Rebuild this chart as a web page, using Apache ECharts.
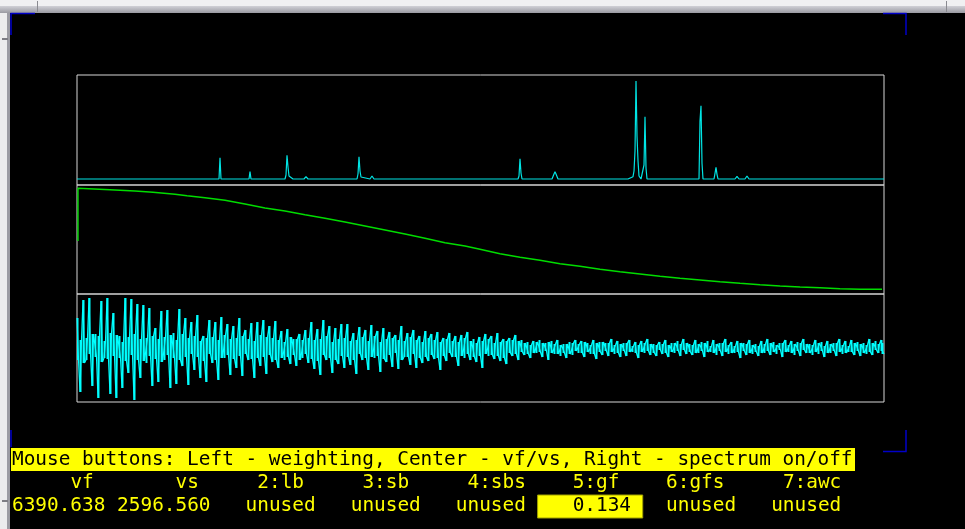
<!DOCTYPE html>
<html>
<head>
<meta charset="utf-8">
<script src="https://cdn.jsdelivr.net/npm/echarts@6/dist/echarts.min.js"></script>
<style>
  html, body { margin: 0; padding: 0; background: #000; }
  #chart { width: 965px; height: 529px; }
</style>
</head>
<body>
<div id="chart"></div>
<script>
// ---------------------------------------------------------------------------
// Spectrum / weighting / waveform panels (X11 style readout)
// ---------------------------------------------------------------------------

// spectrum: bin index -> magnitude above baseline
const specX = [0, 142, 143, 144, 172, 173, 174, 208, 209, 210, 211, 212, 214, 216, 227, 229, 231,
  280, 281, 282, 283, 284, 286, 293, 295, 297, 441, 442, 443, 444, 445, 475, 477, 478, 479, 481,
  551, 556, 557, 558, 559, 560, 561, 562, 564, 566, 567, 568, 569, 570, 614, 615, 616,
  622, 623, 624, 625, 626, 637, 638, 639, 640, 641, 658, 660, 662, 668, 670, 672, 807];
const specY = [0, 0, 21.3, 0, 0, 7.3, 0, 0, 4, 23.7, 12, 3, 1, 0, 0, 2.3, 0,
  0, 5, 22.3, 8, 2, 0, 0, 3, 0, 0, 3, 20.3, 6, 0, 0, 5, 7.3, 5, 0,
  0, 2.3, 8, 28, 98, 43.3, 18.3, 3, 0, 0, 14, 62.3, 11, 0, 0, 2, 0,
  0, 58, 73.3, 15.7, 0, 0, 5.7, 11.7, 4.7, 0, 0, 2.7, 0, 0, 3, 0, 0];

// weighting curve
const weightX = [1, 1, 33, 58, 76, 98, 110, 128, 148, 168, 188, 208, 228, 248, 268, 288, 308, 328,
  348, 368, 388, 403, 423, 443, 463, 483, 503, 523, 543, 563, 583, 603, 623, 643, 663, 683,
  703, 723, 743, 763, 783, 805];
const weightY = [53, 105.7, 104.3, 103, 101.7, 99.7, 98.3, 96.3, 93.7, 90, 86, 83, 79.3, 75.7, 72, 68,
  64, 60, 55.7, 51.3, 48, 44.7, 40.3, 36.7, 33.7, 30.3, 27.7, 24.7, 22.3, 20, 17.7, 15.7, 14,
  12.3, 10.7, 9.3, 8, 7, 6.3, 5.3, 4.7, 4.7];

// waveform: per column (every WAVE_STEP bins) the peak excursion and the opposite-side excursion
const wavePeak = [
  30, -44, 48, -12, 50, -38, 14, -50, 47, -10, 50, -46, 35, -50, 12, -40, 50, -25, 49, -52, 44, -30,
  43, -15, 40, -38, 20,
  -34, 37, -12, 38, -40, 15, -36, 39, -18, 30, -37, 26,
  -22, 33, -30, 12, -34, 28, -15, 26, -32, 31, -10, 24, -27, 22,
  -20, 30, -28, 18, -12, 25, -30, 26, -18,
  28, -26, 22, -14, 27,
  -20, 17, -12, 19, -16, 9, -18, 14, -10, 18, -15,
  26, -21, 19, -27, 28, -12, 22, -25, 20, -16, 24,
  -20, 24, -17, 15, -26, 21, -12, 18, -22, 23, -10, 17, -24, 20, -14, 16, -19, 13, -21, 22,
  -9, 15, -17, 18, -20, 12, -15, 17, -13,
  14, -11, 16, -22, 10, -13, 15, -9, 12, -18, 13, -10, 16, -12, 9, -14, 11, -20, 14, -8,
  12, -11, 15, -13, 9, -16, 10, -8, 13, -12,
  8, -7, 6, -10, 7, -5, 8, -9, 5, -12, 7, -6, 8, -8, 4, -10, 6, -7, 8, -5,
  7, -9, 5, -6, 8, -11, 6, -7, 5, -8,
  9, -6, 7, -9, 5, -8, 8, -4, 6, -10, 7, -5, 9, -7, 4, -8, 6, -6, 8, -9, 5, -5, 7, -8, 9, -6, 4, -7, 8, -5,
  6, -9, 7, -4, 8, -7, 5, -8, 9, -6, 6, -5, 7, -10, 5, -7, 8, -6, 4, -8, 7, -5, 9, -7, 6, -6, 5, -9, 8, -4,
  7, -7, 6, -8, 9, -5, 4, -7, 8, -6, 6, -9, 7, -5, 5, -8, 9, -6, 7, -4, 8, -7, 6, -8, 5, -6, 9, -7, 7, -5,
  8, -6
];
const waveCore = [
  -12, 8, -15, 10, -6, 14, -9, 12, -14, 7, -11, 15, -8, 13, -10, 6, -13, 11, -7, 14, -12, 9,
  -13, 10, -8, 12, -11,
  9, -14, 11, -7, 13, -10, 8, -12, 14, -9, 10, -6,
  12, -9, 7, -13, 10, -6, 11, -12, 8, -10, 13, -7, 9, -11,
  10, -8, 12, -6, 9, -11, 7, -10, 13,
  -9, 11, -7, 10, -12,
  8, -10, 6, -9, 11, -7, 9, -12, 8, -6, 10,
  -11, 8, -13, 9, -7, 12, -10, 6, -12, 9, -8,
  10, -9, 7, -12, 8, -6, 11, -10, 7, -9, 12, -8, 6, -11, 9, -7, 10, -5, 8, -12,
  7, -9, 11, -6, 8, -10, 6, -9, 10,
  -7, 8, -10, 6, -8, 9, -5, 7, -9, 6, -8, 10, -6, 7, -9, 5, -8, 7, -6, 9,
  -7, 5, -8, 6, -10, 7, -5, 8, -6, 7,
  -4, 5, -6, 3, -5, 6, -4, 5, -3, 6, -5, 4, -6, 3, -5, 4, -6, 5, -3, 4,
  -5, 6, -4, 3, -6, 5, -4, 6, -3, 5,
  -4, 3, -5, 4, -3, 5, -4, 2, -5, 3, -4, 5, -3, 4, -5, 3, -2, 4, -5, 3, -4, 5, -3, 4, -2, 5, -4, 3, -5, 4,
  -3, 5, -4, 2, -5, 4, -3, 5, -4, 3, -5, 2, -4, 5, -3, 4, -5, 3, -4, 2, -5, 4, -3, 5, -4, 3, -2, 5, -4, 3,
  -5, 4, -3, 5, -2, 4, -5, 3, -4, 5, -3, 2, -5, 4, -3, 5, -4, 3, -5, 2, -4, 5, -3, 4, -5, 3, -4, 5, -2, 4,
  -3, 5
];
const WAVE_STEP = 3;

// status lines
const helpText = "Mouse buttons: Left - weighting, Center - vf/vs, Right - spectrum on/off";
const paramLabels = ["vf", "vs", "2:lb", "3:sb", "4:sbs", "5:gf", "6:gfs", "7:awc"];
const paramValues = ["6390.638", "2596.560", "unused", "unused", "unused", "0.134", "unused", "unused"];
const labelCols = [5, 14, 21, 30, 39, 48, 56, 66];
const valueCols = [0, 9, 20, 29, 38, 48, 56, 65];
const ACTIVE_PARAM = 5;

const FONT = '19.4px "DejaVu Sans Mono", "Liberation Mono", monospace';
const CHAR_W = 11.68;
const TEXT_X0 = 12;
const YELLOW = "#ffff00";
const BLUE = "#0000c8";
const CYAN = "#00ffff";

const PANEL = { left: 77, width: 807 };

function pairs(xs, ys) {
  return xs.map((x, i) => [x, ys[i]]);
}

// zig-zag trace through peak / core samples
function waveTrace() {
  const out = [];
  wavePeak.forEach((v, i) => {
    out.push([i * WAVE_STEP, v]);
    if (i < waveCore.length - 1) out.push([i * WAVE_STEP + WAVE_STEP / 2, waveCore[i]]);
  });
  return out;
}

// one vertical stroke per column, core -> peak
function waveColumns() {
  return wavePeak.map((v, i) => [i * WAVE_STEP, waveCore[i], v]);
}

function panelGrid(top, height) {
  return {
    left: PANEL.left, width: PANEL.width, top: top, height: height,
    show: true, borderColor: "#d6d6d6", borderWidth: 1, backgroundColor: "transparent"
  };
}

function hiddenAxis(idx, min, max) {
  return { type: "value", gridIndex: idx, min: min, max: max, show: false };
}

function lineSeries(idx, data, color, width) {
  return {
    type: "line", xAxisIndex: idx, yAxisIndex: idx, data: data,
    showSymbol: false, silent: true, animation: false,
    lineStyle: { color: color, width: width }
  };
}

function txt(x, y, text, fill) {
  return {
    type: "text", x: x, y: y, silent: true,
    style: { text: text, fill: fill, font: FONT, align: "left", verticalAlign: "middle" }
  };
}

function corner(points) {
  return { type: "polyline", silent: true, shape: { points: points }, style: { stroke: BLUE, lineWidth: 1.5, fill: null } };
}

const chart = echarts.init(document.getElementById("chart"), null, { renderer: "canvas" });

const graphics = [
  // window decoration
  { type: "rect", shape: { x: 0, y: 0, width: 965, height: 7 }, style: { fill: "#f0f0f2" } },
  {
    type: "rect", shape: { x: 0, y: 6, width: 965, height: 7 },
    style: { fill: new echarts.graphic.LinearGradient(0, 0, 0, 1, [{ offset: 0, color: "#d0d0d6" }, { offset: 1, color: "#9a9aa2" }]) }
  },
  { type: "rect", shape: { x: 0, y: 13, width: 8, height: 516 }, style: { fill: "#ececee" } },
  { type: "rect", shape: { x: 7, y: 13, width: 3, height: 516 }, style: { fill: "#9c9ca4" } },
  { type: "rect", shape: { x: 37, y: 1, width: 1, height: 11 }, style: { fill: "#8a8a90" } },
  { type: "rect", shape: { x: 946, y: 1, width: 1, height: 11 }, style: { fill: "#8a8a90" } },
  { type: "rect", shape: { x: 2, y: 38, width: 6, height: 2 }, style: { fill: "#7c7c84" } },
  { type: "rect", shape: { x: 2, y: 500, width: 6, height: 2 }, style: { fill: "#7c7c84" } },
  corner([[35, 13.5], [11, 13.5], [11, 35]]),
  corner([[883, 13.5], [906, 13.5], [906, 35]]),
  corner([[906, 430], [906, 451.5], [883, 451.5]]),
  corner([[11, 430], [11, 447]]),
  // help banner
  { type: "rect", shape: { x: 11, y: 448, width: 844, height: 23 }, style: { fill: YELLOW } },
  txt(TEXT_X0, 459.5, helpText, "#000"),
  // active parameter box
  { type: "rect", shape: { x: TEXT_X0 + 45 * CHAR_W, y: 495, width: 9 * CHAR_W, height: 23 }, style: { fill: YELLOW, stroke: "#a0a000", lineWidth: 1 } }
];

paramLabels.forEach((label, i) => {
  graphics.push(txt(TEXT_X0 + labelCols[i] * CHAR_W, 482.5, label, YELLOW));
});
paramValues.forEach((value, i) => {
  graphics.push(txt(TEXT_X0 + valueCols[i] * CHAR_W, 506, value, i === ACTIVE_PARAM ? "#000" : YELLOW));
});

chart.setOption({
  backgroundColor: "#000",
  animation: false,
  grid: [panelGrid(75, 110), panelGrid(185, 109), panelGrid(294, 108)],
  xAxis: [hiddenAxis(0, 0, 807), hiddenAxis(1, 0, 807), hiddenAxis(2, 0, 807)],
  yAxis: [hiddenAxis(0, -6, 104), hiddenAxis(1, 0, 109), hiddenAxis(2, -54, 54)],
  series: [
    lineSeries(0, pairs(specX, specY), "#00e4e4", 1.2),
    lineSeries(1, pairs(weightX, weightY), "#00dc00", 1.4),
    lineSeries(2, waveTrace(), CYAN, 1.2),
    {
      type: "custom", xAxisIndex: 2, yAxisIndex: 2, data: waveColumns(),
      silent: true, animation: false, clip: true, encode: { x: 0, y: [1, 2] },
      renderItem: (params, api) => {
        const a = api.coord([api.value(0), api.value(1)]);
        const b = api.coord([api.value(0), api.value(2)]);
        const x = Math.min(Math.round(a[0]), PANEL.left + PANEL.width - 2);
        return {
          type: "line",
          shape: { x1: x + 0.5, y1: a[1], x2: x + 0.5, y2: b[1] },
          style: { stroke: CYAN, lineWidth: 2 }
        };
      }
    }
  ],
  graphic: graphics
});
</script>
</body>
</html>
